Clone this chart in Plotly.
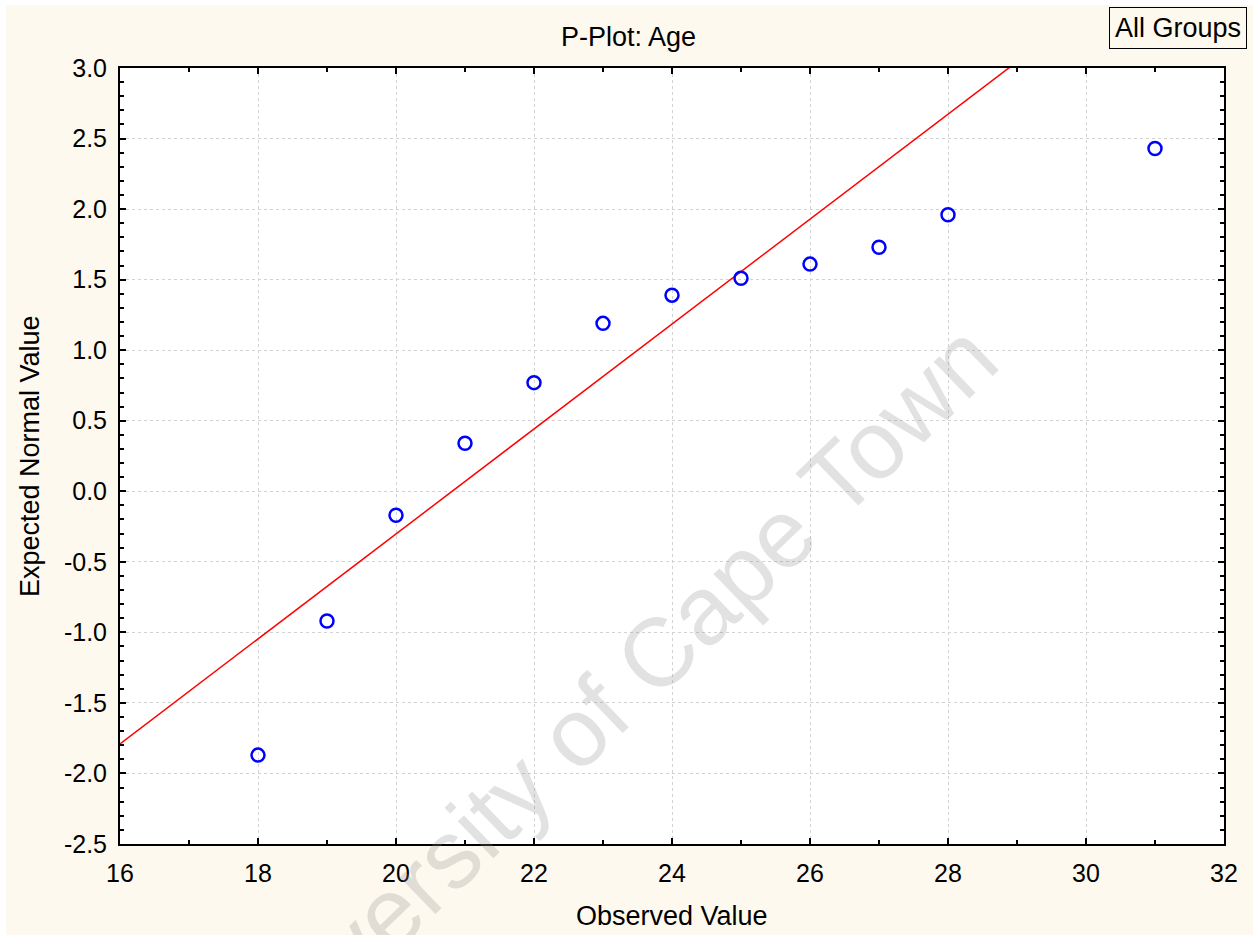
import plotly.graph_objects as go

# ---- data ----
observed = [18, 19, 20, 21, 22, 23, 24, 25, 26, 27, 28, 31]
expected = [-1.87, -0.92, -0.17, 0.34, 0.77, 1.19, 1.39, 1.51, 1.61, 1.73, 1.96, 2.43]
fit_x = [16, 32]
fit_y = [-1.79, 4.16]
x_ticks = [16, 18, 20, 22, 24, 26, 28, 30, 32]
y_ticks = [-2.5, -2.0, -1.5, -1.0, -0.5, 0.0, 0.5, 1.0, 1.5, 2.0, 2.5, 3.0]
y_tick_text = ["%.1f" % v for v in y_ticks]

W, H = 1253, 935
L, R, T, B = 120, 29, 68, 91
PW, PH = W - L - R, H - T - B
CREAM = "#FEF9EE"
FONT = "Liberation Sans, Arial, sans-serif"
FS = 25
FS_T = 27


def px(x):
    return (x - L) / PW


def py(y):
    return (H - B - y) / PH


fig = go.Figure()
fig.add_trace(go.Scatter(x=fit_x, y=fit_y, mode="lines",
                         line=dict(color="#FF0000", width=1.5),
                         hoverinfo="skip", showlegend=False, cliponaxis=True))
fig.add_trace(go.Scatter(x=observed, y=expected, mode="markers",
                         marker=dict(symbol="circle-open", size=13, color="#0000FF",
                                     line=dict(width=2.5, color="#0000FF")),
                         showlegend=False))

axis_common = dict(showline=True, linecolor="black", linewidth=2, mirror="allticks",
                   ticks="inside", ticklen=6, tickwidth=1.5, tickcolor="black",
                   showgrid=True, gridcolor="#D2D2D2", gridwidth=1, griddash="dot",
                   zeroline=False, tickfont=dict(family=FONT, size=FS, color="black"))

fig.update_xaxes(range=[16, 32], tickvals=x_ticks, ticktext=[str(v) for v in x_ticks],
                 minor=dict(dtick=1, tick0=16, ticks="inside", ticklen=4, tickwidth=1.5,
                            tickcolor="black", showgrid=False),
                 ticklabelstandoff=6, **axis_common)
fig.update_yaxes(range=[-2.5, 3.0], tickvals=y_ticks, ticktext=y_tick_text,
                 minor=dict(dtick=0.1, tick0=0, ticks="inside", ticklen=4, tickwidth=1.5,
                            tickcolor="black", showgrid=False),
                 ticklabelstandoff=6, **axis_common)

shapes = [
    dict(type="rect", xref="paper", yref="paper", x0=px(0), x1=px(6), y0=py(H), y1=py(0),
         fillcolor="white", line=dict(width=0), layer="above"),
    dict(type="rect", xref="paper", yref="paper", x0=px(0), x1=px(W), y0=py(5), y1=py(0),
         fillcolor="white", line=dict(width=0), layer="above"),
]

ann_common = dict(xref="paper", yref="paper", showarrow=False, xanchor="center", yanchor="middle")
annotations = [
    dict(text="University of Cape Town", x=px(604), y=py(704), textangle=-44,
         font=dict(family=FONT, size=97, color="rgba(140,140,140,0.25)"), **ann_common),
    dict(text="P-Plot: Age", x=px(628), y=py(37),
         font=dict(family=FONT, size=FS_T, color="black"), **ann_common),
    dict(text="Observed Value", x=px(672), y=py(916),
         font=dict(family=FONT, size=FS_T, color="black"), **ann_common),
    dict(text="Expected Normal Value", x=px(30), y=py(456), textangle=-90,
         font=dict(family=FONT, size=FS_T, color="black"), **ann_common),
    dict(text="All Groups", x=px(1178), y=py(28.5),
         bordercolor="black", borderwidth=1, borderpad=5,
         bgcolor=CREAM, font=dict(family=FONT, size=FS_T, color="black"), **ann_common),
]

fig.update_layout(width=W, height=H, margin=dict(l=L, r=R, t=T, b=B, pad=0),
                  paper_bgcolor=CREAM, plot_bgcolor="white",
                  shapes=shapes, annotations=annotations, showlegend=False)

fig.write_html("out.html")
